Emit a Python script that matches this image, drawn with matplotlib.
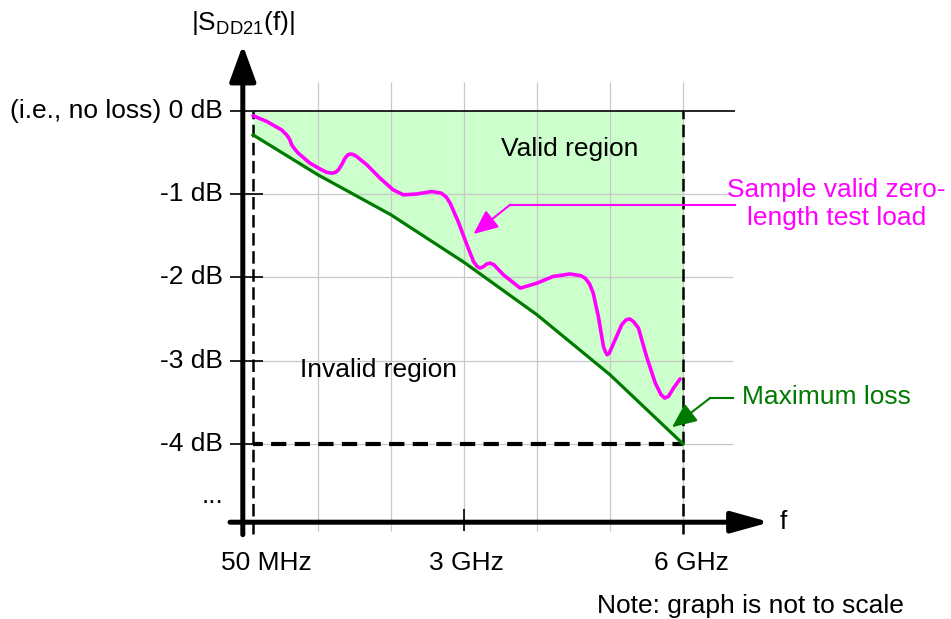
import matplotlib.pyplot as plt

plt.rcParams['font.family'] = ['Liberation Sans', 'DejaVu Sans']
plt.rcParams['mathtext.fontset'] = 'custom'
plt.rcParams['mathtext.rm'] = 'Liberation Sans'
plt.rcParams['lines.scale_dashes'] = False

# x is in "grid units" (graph is not to scale): 50 MHz ~ 0.11, 3 GHz = 3, 6 GHz = 6
# maximum loss limit line, dB
loss_x = [0.11, 1.0, 2.0, 3.0, 4.0, 5.0, 6.0]
loss_db = [-0.29, -0.77, -1.25, -1.82, -2.45, -3.17, -4.0]

# sample valid zero-length test load
load_x = [0.11, 0.30, 0.50, 0.57, 0.61, 0.64, 0.68, 0.73, 0.89, 1.05, 1.12, 1.19, 1.24,
          1.28, 1.33, 1.37, 1.41, 1.44, 1.48, 1.53, 1.67, 1.85, 2.03, 2.17, 2.35, 2.56,
          2.69, 2.76, 2.81, 2.92, 3.04, 3.13, 3.18, 3.22, 3.27, 3.31, 3.36, 3.41, 3.54,
          3.77, 4.00, 4.22, 4.45, 4.60, 4.66, 4.72, 4.77, 4.84, 4.91, 4.94, 4.96, 4.99,
          5.05, 5.16, 5.22, 5.27, 5.32, 5.39, 5.50, 5.62, 5.70, 5.75, 5.80, 5.87, 5.96]
load_db = [-0.06, -0.13, -0.23, -0.29, -0.34, -0.41, -0.46, -0.51, -0.63, -0.71, -0.74,
           -0.75, -0.74, -0.71, -0.64, -0.57, -0.53, -0.52, -0.525, -0.55, -0.65, -0.81,
           -0.95, -1.01, -1.00, -0.97, -0.99, -1.04, -1.11, -1.33, -1.61, -1.81, -1.87,
           -1.89, -1.87, -1.84, -1.83, -1.85, -1.97, -2.13, -2.07, -1.99, -1.96, -1.98,
           -2.01, -2.08, -2.19, -2.47, -2.83, -2.90, -2.93, -2.91, -2.79, -2.57, -2.51,
           -2.50, -2.53, -2.61, -2.95, -3.27, -3.41, -3.45, -3.43, -3.33, -3.22]

db_ticks = [0, -1, -2, -3, -4]
db_labels = ['(i.e., no loss) 0 dB', '-1 dB', '-2 dB', '-3 dB', '-4 dB']
f_lines = [0.11, 6.0]
f_label_x = [0.29, 3.03, 6.12]
f_labels = ['50 MHz', '3 GHz', '6 GHz']
grid_x = [1, 2, 3, 4, 5, 6]

magenta = '#ff00ff'
green = '#007a00'

fig = plt.figure(figsize=(9.51, 6.19), dpi=100)
ax = fig.add_axes([0, 0, 1, 1])
ax.set_xlim(-3.356, 9.671)
ax.set_ylim(-6.102, 1.329)
ax.axis('off')

# valid region fill
ax.fill_between(loss_x, loss_db, 0, color='#ccffcc', lw=0, zorder=1)

# light grid
ax.vlines(grid_x, -5.05, 0.35, colors='#c8c8c8', lw=0.9, zorder=2)
ax.hlines(db_ticks[1:], -0.03, 6.68, colors='#c8c8c8', lw=0.9, zorder=2)

# 0 dB line and ticks
ax.hlines(0, -0.205, 6.71, colors='black', lw=1.2, zorder=3)
ax.hlines(db_ticks[1:], -0.205, 0.25, colors='black', lw=1.2, zorder=3)
ax.vlines(3, -5.05, -4.78, colors='black', lw=1.2, zorder=3)

# dashed limits
ax.vlines(f_lines, -5.08, 0, colors='black', lw=1.8, linestyles=[(0, (9, 4))], zorder=4)
ax.hlines(-4, 0.11, 6.0, colors='black', lw=3, linestyles=[(4, (11, 6))], zorder=4)

# curves
ax.plot(loss_x, loss_db, color=green, lw=2.3, zorder=5, solid_joinstyle='round')
ax.plot(load_x, load_db, color=magenta, lw=2.6, zorder=5, solid_joinstyle='round',
        solid_capstyle='round')

# axes with arrows
ax.annotate('', xy=(-0.03, 0.788), xytext=(-0.03, -5.09),
            arrowprops=dict(arrowstyle='-|>,head_length=1.1,head_width=0.4', lw=3.6,
                            color='black', mutation_scale=20, shrinkA=0, shrinkB=0),
            zorder=6)
ax.annotate('', xy=(7.19, -4.94), xytext=(-0.205, -4.94),
            arrowprops=dict(arrowstyle='-|>,head_length=1.15,head_width=0.32', lw=3.6,
                            color='black', mutation_scale=20, shrinkA=0, shrinkB=0),
            zorder=6)

# leaders
ax.plot([6.71, 3.63], [-1.13, -1.13], color=magenta, lw=1.5, zorder=6)
ax.annotate('', xy=(3.13, -1.48), xytext=(3.63, -1.13),
            arrowprops=dict(arrowstyle='-|>,head_length=0.75,head_width=0.33', lw=1.5,
                            color=magenta, mutation_scale=20, shrinkA=0, shrinkB=0),
            zorder=6)
ax.plot([6.68, 6.37], [-3.45, -3.45], color=green, lw=1.5, zorder=6)
ax.annotate('', xy=(5.85, -3.80), xytext=(6.37, -3.45),
            arrowprops=dict(arrowstyle='-|>,head_length=0.75,head_width=0.33', lw=1.5,
                            color=green, mutation_scale=20, shrinkA=0, shrinkB=0),
            zorder=6)

fs = 19
for y, lab in zip(db_ticks, db_labels):
    ax.text(-0.30, y, lab, ha='right', va='center', fontsize=fs)
for x, lab in zip(f_label_x, f_labels):
    ax.text(x, -5.43, lab, ha='center', va='center', fontsize=fs)

ax.text(-0.44, -4.62, '...', ha='center', va='center', fontsize=fs)
ax.text(-0.03, 1.05, r'|S$_{\rm DD21}$(f)|', ha='center', va='center', fontsize=fs)
ax.text(7.37, -4.94, 'f', ha='center', va='center', fontsize=fs)
ax.text(4.45, -0.46, 'Valid region', ha='center', va='center', fontsize=fs)
ax.text(1.83, -3.11, 'Invalid region', ha='center', va='center', fontsize=fs)
ax.text(8.10, -1.12, 'Sample valid zero-\nlength test load', ha='center', va='center',
        fontsize=fs, color=magenta, linespacing=1.2)
ax.text(6.81, -3.44, 'Maximum loss', ha='left', va='center', fontsize=fs, color=green)
ax.text(6.92, -5.94, 'Note: graph is not to scale', ha='center', va='center', fontsize=fs)

fig.savefig('out.png', dpi=100)
